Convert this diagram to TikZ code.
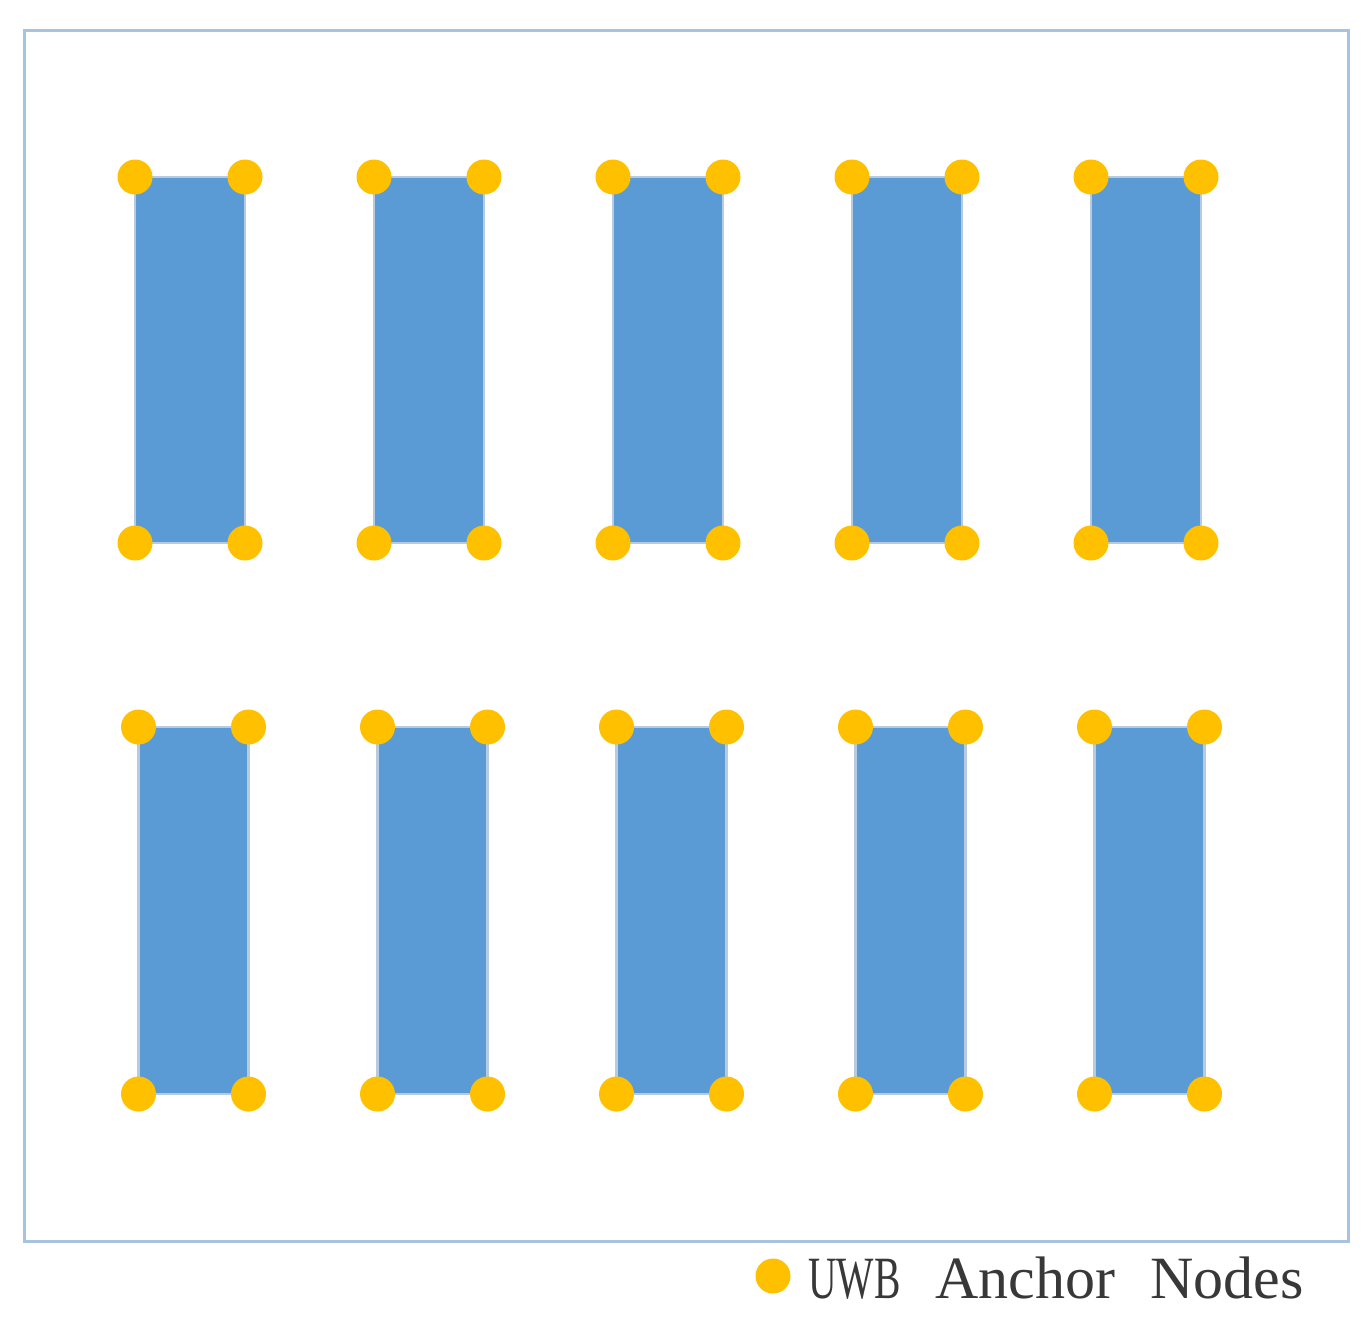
\documentclass[tikz,border=0pt]{standalone}
\usepackage{fontspec}
\newfontfamily\legendfont{Liberation Serif}
\usetikzlibrary{positioning}

\definecolor{rackblue}{HTML}{5B9BD5}
\definecolor{rackedge}{HTML}{B7CADF}
\definecolor{framecol}{HTML}{A7C3E0}
\definecolor{anchoryellow}{HTML}{FFC000}

\begin{document}
\begin{tikzpicture}[x=1pt,y=-1pt,
		rack/.style={rectangle,draw=rackedge,fill=rackblue,line width=2.5pt,
			minimum width=110pt,minimum height=366pt,inner sep=0pt,outer sep=0pt},
		anchornode/.style={circle,fill=anchoryellow,minimum size=35pt,inner sep=0pt},
		legend/.style={anchor=base west,inner sep=0pt,text=black!78,
			font=\legendfont\fontsize{60}{60}\selectfont}]
		\useasboundingbox (0,0) rectangle (1371,1328);
		% Frame
		\draw[framecol,line width=3pt] (24.5,30.5) rectangle (1348.5,1241.5);
		% Racks, two rows of five
		\foreach \i in {1,...,5}{
			\node[rack] (top\i) at ({190+239*(\i-1)},360) {};
			\node[rack,minimum height=367pt] (bot\i) at ({193.5+239*(\i-1)},910.5) {};
		}
		% Anchor nodes at the rack corners
		\foreach \r in {top,bot}
			\foreach \i in {1,...,5}
				\foreach \c/\n in {north west/nw,north east/ne,south west/sw,south east/se}
					\node[anchornode] (\r\i\n) at (\r\i.\c) {};
		% Legend
		\node[anchornode] (key) at (773,1276) {};
		\node[legend] (keytext) at (808,1298) {\spaceskip=35pt\relax\scalebox{0.66}[1]{UWB} Anchor Nodes};
\end{tikzpicture}
\end{document}
